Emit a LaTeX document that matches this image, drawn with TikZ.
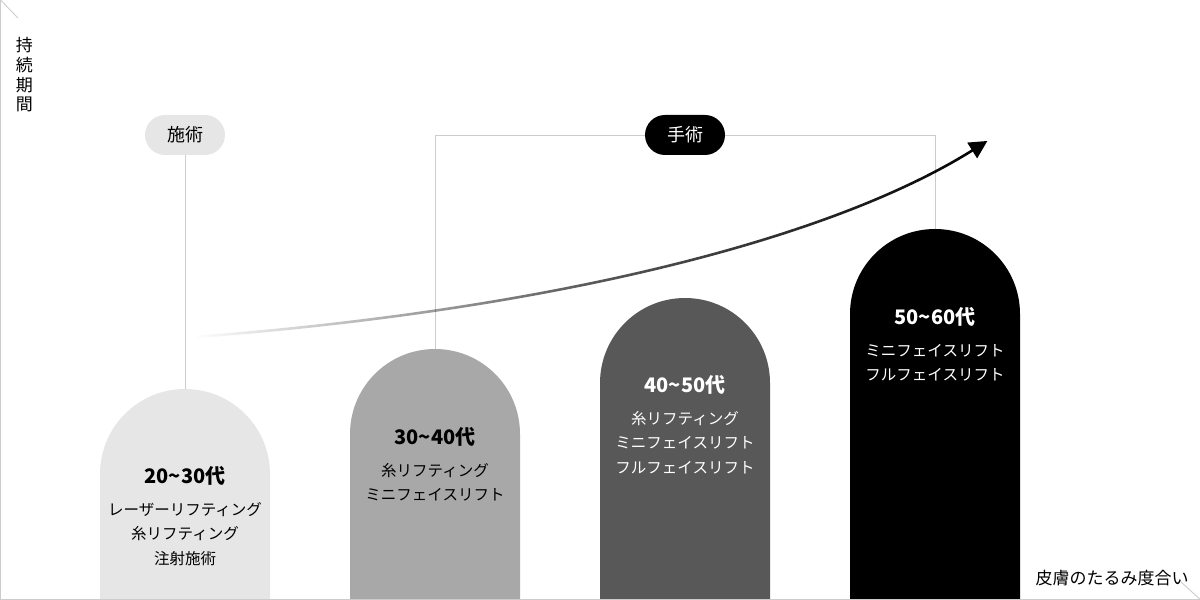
\documentclass[tikz,border=0pt]{standalone}
\usepackage{fontspec}
\setmainfont{Noto Sans CJK JP}
\usepackage{tikz}
\usetikzlibrary{positioning}
\usetikzlibrary{arrows.meta,fadings}

\definecolor{barA}{HTML}{E6E6E6}
\definecolor{barB}{HTML}{A8A8A8}
\definecolor{barC}{HTML}{585858}
\definecolor{axisgray}{HTML}{CCCCCC}

\tikzfading[name=fade in, left color=transparent!100, right color=transparent!0, middle color=transparent!35]

\begin{document}
\begin{tikzpicture}[x=1pt,y=1pt,
	axis/.style={draw=axisgray,line width=0.9pt},
	link/.style={draw=axisgray,line width=0.9pt},
	pill/.style={rounded corners=20pt,minimum width=80pt,minimum height=40pt,inner sep=0pt,font=\fontsize{18}{18}\selectfont},
	age/.style={inner sep=0pt,text height=22.5pt,text depth=7.5pt,font=\fontsize{20}{20}\selectfont\bfseries},
	item/.style={inner sep=0pt,text height=18pt,text depth=6.4pt,font=\fontsize{15.5}{15.5}\selectfont},
	trend/.style={draw=black,line width=2.6pt,-{Triangle[length=18pt,width=18pt]}}]
	\useasboundingbox (0,0) rectangle (1200,600);
	% bars
	\fill[barA] (100,0) -- (100,126) arc[start angle=180,end angle=0,radius=85] -- (270,0) -- cycle;
	\fill[barB] (350,0) -- (350,166) arc[start angle=180,end angle=0,radius=85] -- (520,0) -- cycle;
	\fill[barC] (600,0) -- (600,217) arc[start angle=180,end angle=0,radius=85] -- (770,0) -- cycle;
	\fill[black] (850,0) -- (850,286) arc[start angle=180,end angle=0,radius=85] -- (1020,0) -- cycle;
	\coordinate (top1) at (185,211);
	\coordinate (top2) at (435,251);
	\coordinate (top3) at (685,302);
	\coordinate (top4) at (935,371);
	% axes
	\coordinate (yend) at (0.5,600);
	\coordinate (origin) at (0.5,0.7);
	\coordinate (xend) at (1200,0.7);
	\draw[axis] (yend) -- (origin) -- (xend);
	\draw[axis] (yend) -- (18,582);
	\draw[axis] (xend) -- (1181,18);
	\node[inner sep=0pt,align=center,font=\fontsize{17}{19.7}\selectfont] (ylab) at (24.5,525) {持\\続\\期\\間};
	\node[inner sep=0pt,font=\fontsize{17}{17}\selectfont] (xlab) at (1112,22) {皮膚のたるみ度合い};
	% treatment groups
	\node[pill,fill=barA] (sejutsu) at (185,465) {施術};
	\node[pill,fill=black,text=white] (shujutsu) at (685,465) {手術};
	\draw[link] (sejutsu) -- (top1);
	\draw[link] (shujutsu.west) -| (top2);
	\draw[link] (shujutsu.east) -| (top4);
	% trend
	\coordinate (t0) at (195,263);
	\coordinate (t1) at (988,459);
	\draw[trend,path fading=fade in] (t0) .. controls (550,290) and (830,360) .. (t1);
	% 20~30
	\node[age] (h1) at (185,124) {20\textasciitilde30代};
	\node[item] (a1) [below=5.75pt of h1] {レーザーリフティング};
	\node[item] (a2) [below=0pt of a1] {糸リフティング};
	\node[item] (a3) [below=0pt of a2] {注射施術};
	% 30~40
	\node[age] (h2) at (435,163) {30\textasciitilde40代};
	\node[item] (b1) [below=5.75pt of h2] {糸リフティング};
	\node[item] (b2) [below=0pt of b1] {ミニフェイスリフト};
	% 40~50
	\node[age,text=white] (h3) at (685,215) {40\textasciitilde50代};
	\node[item,text=white] (c1) [below=5.75pt of h3] {糸リフティング};
	\node[item,text=white] (c2) [below=0pt of c1] {ミニフェイスリフト};
	\node[item,text=white] (c3) [below=0pt of c2] {フルフェイスリフト};
	% 50~60
	\node[age,text=white] (h4) at (935,283) {50\textasciitilde60代};
	\node[item,text=white] (d1) [below=5.75pt of h4] {ミニフェイスリフト};
	\node[item,text=white] (d2) [below=0pt of d1] {フルフェイスリフト};
\end{tikzpicture}
\end{document}
